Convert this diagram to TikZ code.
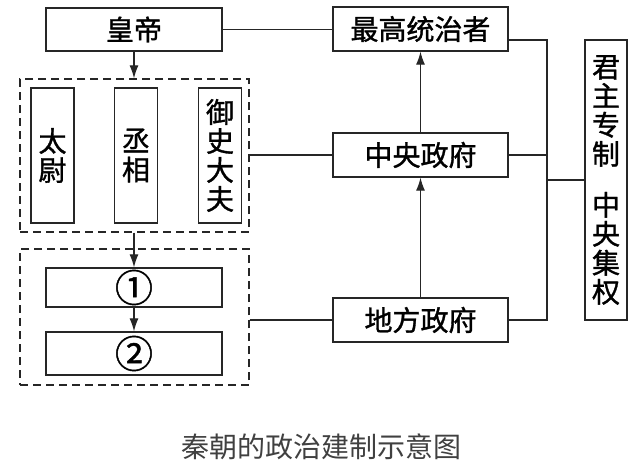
\documentclass[tikz,border=0pt]{standalone}
\usepackage{fontspec}
\setmainfont{Noto Sans CJK SC}
\newfontfamily\boxfont[FakeBold=1.2]{Noto Sans CJK SC}
\usetikzlibrary{arrows.meta}
\begin{document}
\begin{tikzpicture}[x=1pt,y=-1pt,
  box/.style={draw=black!85, line width=1.3pt, inner sep=0pt, font=\boxfont\fontsize{28}{29}\selectfont, align=center},
  vbox/.style={box, minimum width=43pt, minimum height=135pt},
  hbox/.style={box, minimum width=175pt, minimum height=44pt},
  dbox/.style={draw=black!85, dash pattern=on 8pt off 5pt, line width=1.3pt, inner sep=0pt},
  arr/.style={draw=black!85, -{Latex[length=13pt,width=9pt]}, line width=1.2pt},
  ln/.style={draw=black!85, line width=1.1pt}]
\useasboundingbox (0,0) rectangle (642,467);
\fill[white] (0,0) rectangle (642,467);
% left column
\node[hbox, minimum width=176pt, minimum height=43pt] (hd) at (134,29.5) {皇帝};
\node[dbox, minimum width=229pt, minimum height=153pt] (g1) at (134.5,155.5) {};
\node[vbox] (tw) at (52.5,155.5) {太\\尉};
\node[vbox] (cx) at (136,155.5) {丞\\相};
\node[vbox] (ys) at (220,155.5) {御\\史\\大\\夫};
\node[dbox, minimum width=229pt, minimum height=136pt] (g2) at (134.5,317) {};
\node[hbox, minimum width=176pt, minimum height=39pt] (n1) at (134,287.5) {\raisebox{-1pt}{\fontsize{38}{38}\selectfont ①}};
\node[hbox, minimum width=176pt, minimum height=43pt] (n2) at (134,353.5) {\raisebox{-1pt}{\fontsize{38}{38}\selectfont ②}};
% middle column
\node[hbox] (zg) at (420.5,29) {最高统治者};
\node[hbox] (zy) at (420.5,155) {中央政府};
\node[hbox] (df) at (420.5,320) {地方政府};
% right box
\node[box, minimum width=42pt, minimum height=280pt] (jz) at (606,180) {君\\主\\专\\制\\[22pt]中\\央\\集\\权};
\coordinate (bx) at (547,0);
% arrows
\draw[arr] (hd.south) -- (hd.south |- g1.north);
\draw[arr] (n1.north |- g1.south) -- (n1.north);
\draw[arr] (n1.south) -- (n2.north);
\draw[arr] (zy.north) -- (zg.south);
\draw[arr] (df.north) -- (zy.south);
% connectors
\draw[ln] (hd.east) -- (hd.east -| zg.west);
\draw[ln] (zy.west -| g1.east) -- (zy.west);
\draw[ln] (df.west -| g2.east) -- (df.west);
\draw[ln] ([yshift=-11pt]zg.east) -- ([yshift=-11pt]zg.east -| bx) -- (df.east -| bx) -- (df.east);
\draw[ln] (zy.east) -- (zy.east -| bx);
\draw[ln] (jz.west -| bx) -- (jz.west);
% caption
\node[font=\fontsize{28}{30}\selectfont, text=black!75] (cap) at (321,447) {秦朝的政治建制示意图};
\end{tikzpicture}
\end{document}
